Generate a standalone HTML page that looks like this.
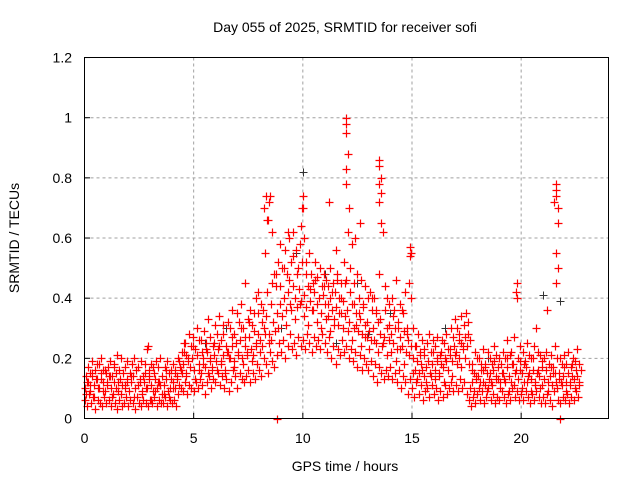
<!DOCTYPE html>
<html><head><meta charset="utf-8"><style>
body{margin:0;background:#fff;}
svg{display:block;font-family:"Liberation Sans",sans-serif;}
</style></head><body>
<svg id="chart" width="640" height="480" viewBox="0 0 640 480" xmlns="http://www.w3.org/2000/svg">
<rect width="640" height="480" fill="#fff"/>
<text x="345" y="32" font-size="14" text-anchor="middle">Day 055 of 2025, SRMTID for receiver sofi</text>
<g id="grid"></g>
<g id="axes"></g>
<g id="marks"></g>
<rect x="84.5" y="57.5" width="524" height="361" fill="none" stroke="#000"/>
<text x="345" y="471" font-size="14" text-anchor="middle">GPS time / hours</text>
<text x="19" y="238" font-size="14" text-anchor="middle" transform="rotate(-90 19 238)">SRMTID / TECUs</text>
</svg>
<script>
const xTicks=[0,5,10,15,20];
const yTicks=[0,0.2,0.4,0.6,0.8,1.0,1.2];
const yTickLabels=["0","0.2","0.4","0.6","0.8","1","1.2"];
const tStart=0, tStep=0.1, tStep2=0.2;
const seriesLow=[.06,.04,.08,.05,.07,.03,.06,.05,.04,.07,.05,.06,.04,.08,.05,.03,.06,.04,.05,.07,.04,.06,.05,.03,.07,.05,.04,.06,.05,.04,.06,.05,.07,.04,.06,.05,.05,.07,.04,.06,.05,.06,.04,.08,.10,.09,.12,.08,.11,.10,.09,.12,.10,.13,.11,.08,.12,.14,.10,.13,.12,.15,.11,.14,.10,.13,.09,.12,.16,.14,.10,.15,.13,.12,.14,.16,.12,.15,.13,.18,.16,.14,.20,.18,.15,.22,.19,.17,.21,.25,.22,.26,.20,.24,.28,.23,.25,.21,.27,.24,.26,.23,.28,.25,.22,.27,.24,.26,.23,.28,.25,.22,.27,.20,.24,.18,.23,.21,.26,.22,.24,.20,.23,.19,.22,.17,.21,.16,.20,.18,.16,.19,.14,.18,.12,.17,.15,.13,.16,.14,.17,.13,.15,.12,.16,.10,.14,.12,.08,.13,.10,.07,.12,.08,.11,.06,.09,.10,.07,.11,.08,.10,.06,.09,.07,.11,.08,.10,.12,.09,.11,.09,.13,.10,.12,.08,.06,.04,.07,.05,.08,.06,.09,.05,.07,.10,.06,.08,.05,.07,.06,.09,.07,.05,.08,.06,.10,.07,.09,.06,.08,.06,.09,.07,.05,.08,.06,.09,.07,.05,.07,.05,.08,.06,.04,.09,.12,.06,.05,.07,.06,.08,.05,.07,.06,.09,.07];
const seriesMid=[.10,.12,.09,.14,.11,.13,.10,.15,.12,.09,.11,.14,.10,.12,.15,.09,.13,.11,.10,.12,.09,.12,.14,.10,.11,.13,.09,.12,.10,.14,.11,.09,.13,.10,.12,.08,.11,.13,.09,.10,.12,.10,.14,.11,.16,.18,.15,.19,.17,.20,.16,.21,.18,.15,.20,.17,.22,.19,.16,.21,.19,.23,.18,.21,.16,.22,.20,.24,.19,.25,.21,.26,.20,.24,.22,.27,.23,.21,.25,.28,.26,.24,.30,.34,.28,.26,.32,.29,.35,.38,.34,.40,.36,.42,.38,.44,.40,.37,.43,.39,.41,.37,.44,.39,.36,.42,.38,.40,.35,.41,.38,.34,.40,.36,.33,.37,.31,.35,.39,.34,.36,.32,.38,.30,.35,.29,.33,.28,.31,.27,.29,.26,.30,.25,.32,.28,.24,.27,.30,.26,.28,.25,.30,.23,.27,.24,.29,.22,.26,.24,.20,.16,.19,.15,.18,.14,.17,.19,.15,.18,.16,.19,.14,.18,.17,.20,.16,.21,.19,.24,.22,.20,.25,.23,.27,.24,.18,.12,.15,.13,.14,.12,.16,.11,.15,.13,.12,.16,.14,.13,.12,.15,.13,.17,.14,.12,.18,.15,.13,.16,.15,.12,.17,.14,.13,.16,.12,.15,.14,.11,.13,.16,.12,.14,.11,.15,.20,.13,.12,.14,.12,.15,.11,.14,.13,.16,.12];
const seriesHigh=[.14,.17,.15,.19,.16,.13,.18,.20,.16,.15,.17,.19,.14,.18,.21,.16,.20,.15,.17,.19,.15,.18,.20,.16,.17,.19,.14,.18,.23,.16,.18,.15,.19,.17,.20,.14,.17,.19,.15,.16,.18,.16,.20,.17,.22,.25,.21,.28,.24,.27,.23,.30,.26,.22,.29,.25,.33,.27,.24,.31,.28,.34,.26,.31,.24,.32,.30,.36,.28,.35,.32,.38,.30,.45,.33,.36,.31,.35,.40,.42,.38,.36,.55,.66,.72,.45,.48,.44,.52,.58,.50,.56,.48,.60,.52,.62,.56,.50,.58,.70,.60,.52,.55,.48,.45,.52,.47,.50,.44,.48,.46,.44,.50,.45,.42,.48,.40,.45,.52,.46,.62,.50,.58,.45,.48,.40,.46,.38,.44,.40,.42,.36,.40,.35,.48,.80,.62,.44,.40,.38,.40,.36,.46,.32,.38,.35,.42,.30,.45,.55,.30,.24,.28,.22,.26,.21,.25,.28,.22,.26,.24,.27,.21,.26,.25,.28,.23,.30,.27,.33,.30,.28,.34,.31,.35,.32,.26,.18,.22,.20,.20,.18,.23,.17,.22,.20,.18,.24,.21,.20,.18,.22,.20,.26,.21,.18,.27,.42,.20,.24,.22,.19,.25,.21,.20,.24,.30,.22,.21,.17,.20,.36,.18,.21,.17,.24,.70,.20,.18,.21,.18,.22,.17,.20,.19,.23,.18];
const seriesLowMid=[.08,.11,.07,.10,.09,.12,.07,.10,.08,.11,.09,.07,.11,.08,.10,.06,.09,.11,.08,.07,.10,.13,.15,.14,.17,.13,.16,.18,.15,.17,.16,.19,.15,.20,.17,.22,.18,.21,.19,.24,.22,.28,.25,.32,.30,.34,.31,.36,.33,.38,.34,.31,.36,.32,.30,.33,.29,.31,.35,.30,.29,.26,.31,.24,.27,.23,.26,.22,.25,.21,.22,.19,.23,.18,.21,.15,.13,.16,.12,.14,.13,.15,.12,.16,.14,.18,.17,.20,.10,.09,.10,.12,.09,.11,.13,.10,.12,.09,.11,.13,.10,.12,.09,.11,.10,.13,.09,.15,.10,.11,.09,.12,.10,.11];
const seriesMidHigh=[.12,.15,.18,.13,.16,.14,.17,.12,.15,.13,.14,.16,.12,.15,.13,.17,.12,.14,.16,.13,.15,.19,.22,.20,.24,.21,.26,.23,.20,.25,.24,.28,.22,.27,.25,.30,.27,.32,.29,.35,.32,.42,.38,.48,.44,.50,.46,.54,.48,.52,.48,.43,.46,.40,.44,.38,.42,.46,.40,.45,.42,.38,.35,.37,.32,.40,.36,.33,.36,.31,.34,.30,.36,.28,.40,.24,.21,.23,.19,.22,.20,.22,.19,.23,.21,.26,.24,.28,.16,.14,.16,.18,.15,.19,.17,.15,.20,.22,.16,.19,.18,.15,.20,.16,.19,.22,.17,.24,.15,.17,.15,.18,.14,.16];
const spikeT=[8.3,8.2,8.5,8.4,8.6,12.0,12.0,12.0,12.05,12.0,12.0,12.1,13.5,13.5,13.5,13.6,13.5,13.6,10.0,10.0,9.9,21.6,21.6,21.6,21.5,21.7,21.6,21.7,21.6,14.9,14.9,19.8,19.8,4.6,2.9,11.2,12.6,12.4,9.3,11.5,8.8,21.8];
const spikeV=[.74,.70,.74,.66,.62,1.0,.98,.95,.88,.83,.78,.70,.86,.84,.78,.75,.72,.65,.74,.70,.64,.78,.76,.74,.72,.65,.55,.50,.45,.57,.54,.45,.40,.25,.24,.72,.65,.60,.62,.56,0,0];
const blackT=[10.0,9.7,11.0,12.5,6.5,14.0,21.0,21.8,16.5,5.5,13.0,0,9.0,11.5,18.5];
const blackV=[.82,.55,.48,.45,.30,.35,.41,.39,.30,.25,.28,.10,.30,.25,.20];

const X0=84.5,XW=21.833,Y0=418.5,YH=300.8;
const sx=t=>X0+t*XW, sy=v=>Y0-v*YH;
const NS="http://www.w3.org/2000/svg";
const grid=document.getElementById('grid'),axes=document.getElementById('axes'),marks=document.getElementById('marks');
function mk(tag,attrs,parent){const e=document.createElementNS(NS,tag);for(const k in attrs)e.setAttribute(k,attrs[k]);parent.appendChild(e);return e;}
xTicks.forEach(t=>{
  const x=sx(t);
  if(t>0){const g=mk('line',{x1:x,y1:57.5,x2:x,y2:418.5,stroke:'#a0a0a0','stroke-dasharray':'3,3'},grid);
  
  }
  const tk=mk('line',{x1:x,y1:418.5,x2:x,y2:413,stroke:'#000'},axes);
  
  
  const l=mk('text',{x:x,y:443,'font-size':14,'text-anchor':'middle'},axes);l.textContent=t;
  
  
});
yTicks.forEach((v,i)=>{
  const y=sy(v);
  if(v>0&&v<1.2){const g=mk('line',{x1:84.5,y1:y,x2:608.5,y2:y,stroke:'#a0a0a0','stroke-dasharray':'3,3'},grid);
  
  }
  const tk=mk('line',{x1:84.5,y1:y,x2:90,y2:y,stroke:'#000'},axes);
  
  
  const l=mk('text',{x:72,y:y+5,'font-size':14,'text-anchor':'end'},axes);l.textContent=yTickLabels[i];
  
  
});
let d='';
function plus(t,v){const x=Math.round(sx(t))+0.5,y=Math.round(sy(v))+0.5;return `M${x-4} ${y}h8M${x} ${y-4}v8`;}
[seriesLow,seriesMid,seriesHigh].forEach((s,k)=>s.forEach((v,i)=>{d+=plus(tStart+i*tStep+k*0.033,v);}));
[seriesLowMid,seriesMidHigh].forEach((s,k)=>s.forEach((v,i)=>{d+=plus(tStart+i*tStep2+0.05+k*0.1,v);}));
spikeT.forEach((t,i)=>{d+=plus(t,spikeV[i]);});
let db='';
blackT.forEach((t,i)=>{db+=plus(t,blackV[i]);});
const pb=mk('path',{d:db,stroke:'#333',fill:'none','stroke-width':1},marks);


const pr=mk('path',{d:d,stroke:'#ff0000',fill:'none','stroke-width':1.2},marks);


</script>
</body></html>
